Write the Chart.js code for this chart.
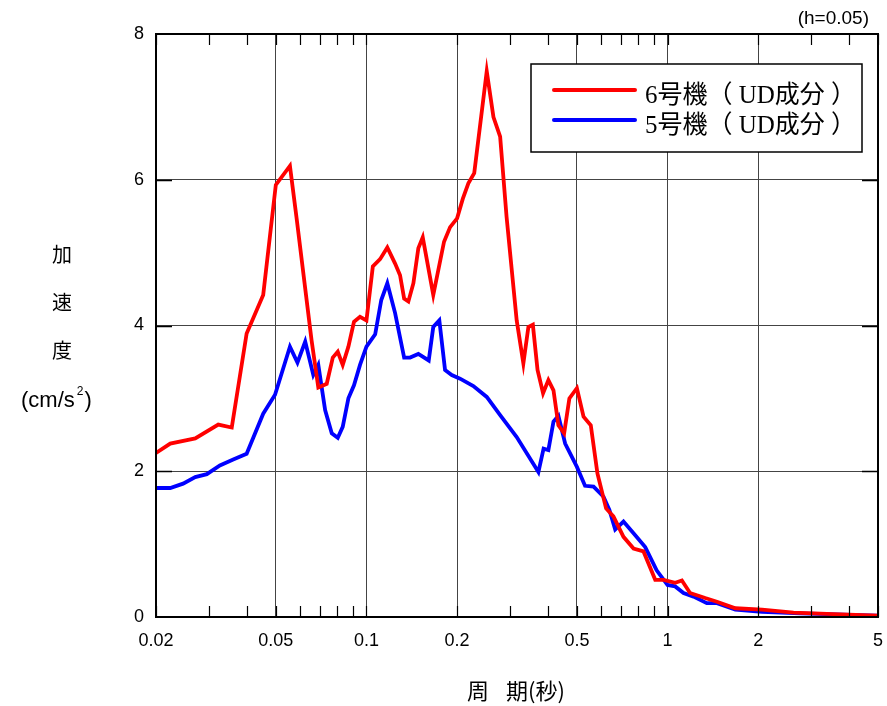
<!DOCTYPE html>
<html>
<head>
<meta charset="utf-8">
<script src="https://cdn.jsdelivr.net/npm/chart.js@4/dist/chart.umd.min.js"></script>
<style>
  html, body { margin:0; padding:0; background:#fff; }
  #wrap { position:relative; width:887px; height:706px; }
</style>
</head>
<body>
<div id="wrap"><canvas id="spec"></canvas></div>
<script>
/* ==================== DATA ==================== */
const xTickValues = [0.02, 0.05, 0.1, 0.2, 0.5, 1, 2, 5];
const xTickLabels = ['0.02', '0.05', '0.1', '0.2', '0.5', '1', '2', '5'];
const yTickLabels = ['0', '2', '4', '6', '8'];

const unit6Label = '6号機（ UD成分 ）';
const unit6Period = [0.02,0.0223,0.027,0.0322,0.0357,0.040,0.0454,0.05,0.0557,0.0587,0.0657,0.0692,0.0738,0.0773,0.0803,0.0834,0.0871,0.0909,0.0952,0.1,
  0.105,0.111,0.1173,0.1245,0.1293,0.1334,0.1378,0.1432,0.1487,0.1538,0.1667,0.181,0.1896,0.2,0.209,0.218,0.228,0.2509,0.2641,0.278,0.292,0.3155,
  0.332,0.345,0.357,0.370,0.386,0.402,0.418,0.434,0.4535,0.472,0.5,0.526,0.556,0.585,0.625,0.661,0.714,0.771,0.832,0.910,0.970,1.06,1.116,1.188,
  1.334,1.459,1.68,2.06,2.62,3.56,5];
const unit6Accel = [2.25,2.38,2.45,2.64,2.60,3.89,4.42,5.93,6.19,5.45,3.80,3.15,3.20,3.56,3.64,3.46,3.71,4.05,4.12,4.07,
  4.81,4.91,5.07,4.85,4.69,4.37,4.33,4.58,5.06,5.21,4.42,5.15,5.35,5.47,5.74,5.95,6.09,7.49,6.86,6.59,5.49,4.07,
  3.48,3.98,4.01,3.39,3.07,3.25,3.11,2.63,2.52,3.00,3.14,2.75,2.63,1.97,1.49,1.38,1.10,0.94,0.90,0.51,0.51,0.47,0.50,0.33,
  0.26,0.21,0.12,0.10,0.06,0.04,0.02];

const unit5Label = '5号機（ UD成分 ）';
const unit5Period = [0.02,0.0223,0.0246,0.027,0.0295,0.0326,0.0361,0.040,0.0454,0.0497,0.0557,0.059,0.0626,0.0666,0.0692,0.0729,0.0767,0.0803,0.0834,0.0871,0.0909,0.0952,0.1,
  0.1069,0.112,0.1173,0.1245,0.1334,0.1396,0.1487,0.161,0.1667,0.1746,0.1824,0.192,0.2046,0.2265,0.2509,0.278,0.3155,
  0.3725,0.3875,0.402,0.418,0.434,0.457,0.5,0.532,0.568,0.613,0.641,0.67,0.714,0.771,0.843,0.920,1.0,1.06,1.13,1.22,1.35,1.46,1.68,2.06,2.76,5];
const unit5Accel = [1.77,1.77,1.83,1.92,1.96,2.08,2.16,2.24,2.79,3.05,3.71,3.49,3.78,3.32,3.46,2.84,2.52,2.46,2.61,3.00,3.18,3.46,3.71,
  3.88,4.35,4.58,4.17,3.56,3.56,3.61,3.52,3.98,4.07,3.39,3.32,3.27,3.17,3.02,2.77,2.47,
  1.99,2.31,2.29,2.68,2.76,2.38,2.06,1.80,1.79,1.65,1.47,1.20,1.31,1.15,0.96,0.64,0.44,0.42,0.33,0.28,0.19,0.19,0.10,0.07,0.05,0.02];

const dampingNote = '(h=0.05)';
const xTitleParts = ['周', '期(秒)'];
const yTitleChars = ['加', '速', '度'];

/* ==================== HELPERS ==================== */
function toPoints(xs, ys) {
  return xs.map((x, i) => ({ x: x, y: ys[i] }));
}

// minor tick values 1..9 per decade within the axis range
function minorTicks(min, max) {
  const out = [];
  for (let d = -2; d <= 0; d++) {
    for (let m = 1; m <= 9; m++) {
      const v = m * Math.pow(10, d);
      if (v >= min - 1e-9 && v <= max + 1e-9) out.push(v);
    }
  }
  return out;
}

const SANS = '"Liberation Sans", Arial, sans-serif';
const CJK = '"Noto Sans CJK JP", sans-serif';

/* ==================== PLUGIN: frame, ticks, legend, titles ==================== */
const decorPlugin = {
  id: 'decor',
  afterDatasetsDraw(chart) {
    const ctx = chart.ctx;
    const a = chart.chartArea;
    const xs = chart.scales.x, ys = chart.scales.y;
    ctx.save();

    // inward tick marks on x (top and bottom)
    ctx.strokeStyle = '#000';
    ctx.lineWidth = 1.2;
    minorTicks(xs.min, xs.max).forEach(v => {
      const px = Math.round(xs.getPixelForValue(v)) + 0.5;
      ctx.beginPath();
      ctx.moveTo(px, a.bottom); ctx.lineTo(px, a.bottom - 11);
      ctx.moveTo(px, a.top); ctx.lineTo(px, a.top + 11);
      ctx.stroke();
    });
    // inward tick marks on y (left and right)
    ctx.lineWidth = 1.5;
    [2, 4, 6].forEach(v => {
      const py = Math.round(ys.getPixelForValue(v)) + 0.5;
      ctx.beginPath();
      ctx.moveTo(a.left, py); ctx.lineTo(a.left + 16, py);
      ctx.moveTo(a.right, py); ctx.lineTo(a.right - 16, py);
      ctx.stroke();
    });

    // frame
    ctx.lineWidth = 2;
    ctx.strokeRect(a.left, a.top, a.right - a.left, a.bottom - a.top);

    // legend box
    const lx = 531, ly = 64, lw = 331, lh = 88;
    ctx.fillStyle = '#fff';
    ctx.fillRect(lx, ly, lw, lh);
    ctx.lineWidth = 1.5;
    ctx.strokeStyle = '#000';
    ctx.strokeRect(lx, ly, lw, lh);
    const rows = [
      { label: unit6Label, color: chart.data.datasets[0].borderColor, y: 90 },
      { label: unit5Label, color: chart.data.datasets[1].borderColor, y: 120 }
    ];
    rows.forEach(r => {
      ctx.strokeStyle = r.color;
      ctx.lineWidth = 4;
      ctx.lineCap = 'round';
      ctx.beginPath();
      ctx.moveTo(554, r.y); ctx.lineTo(635, r.y);
      ctx.stroke();
      ctx.fillStyle = '#000';
      ctx.font = '25px "Liberation Serif", ' + CJK;
      ctx.textBaseline = 'middle';
      ctx.textAlign = 'left';
      ctx.fillText(r.label, 645, r.y + 6);
    });

    // damping note
    ctx.fillStyle = '#000';
    ctx.font = '19px ' + SANS;
    ctx.textAlign = 'right';
    ctx.textBaseline = 'middle';
    ctx.fillText(dampingNote, 869, 19);

    // y title (stacked)
    ctx.textAlign = 'center';
    ctx.font = '20px ' + CJK;
    yTitleChars.forEach((c, i) => ctx.fillText(c, 62, 254 + i * 48));
    ctx.font = '22px ' + SANS;
    ctx.textAlign = 'left';
    let x0 = 21;
    ctx.fillText('(cm/s', x0, 401);
    x0 += ctx.measureText('(cm/s').width + 2;
    ctx.font = '12px ' + SANS;
    ctx.fillText('2', x0, 392);
    x0 += ctx.measureText('2').width + 1;
    ctx.font = '22px ' + SANS;
    ctx.fillText(')', x0, 401);

    // x title
    ctx.font = '22px ' + CJK;
    ctx.textAlign = 'left';
    ctx.fillText(xTitleParts[0], 467, 691);
    ctx.fillText(xTitleParts[1], 506, 691);

    ctx.restore();
  }
};

/* ==================== CHART ==================== */
new Chart(document.getElementById('spec'), {
  type: 'line',
  data: {
    datasets: [
      {
        label: unit6Label,
        data: toPoints(unit6Period, unit6Accel),
        borderColor: '#ff0000', borderWidth: 3.8,
        pointRadius: 0, tension: 0, fill: false
      },
      {
        label: unit5Label,
        data: toPoints(unit5Period, unit5Accel),
        borderColor: '#0000ff', borderWidth: 3.8,
        pointRadius: 0, tension: 0, fill: false
      }
    ]
  },
  options: {
    responsive: true, maintainAspectRatio: false,
    animation: false,
    layout: { padding: { left: 0, top: 34, right: 9, bottom: 0 } },
    plugins: { legend: { display: false }, tooltip: { enabled: false } },
    scales: {
      x: {
        type: 'logarithmic', min: 0.02, max: 5,
        afterBuildTicks: s => { s.ticks = xTickValues.map(v => ({ value: v })); },
        afterFit: s => { s.height = 89; s.paddingLeft = 0; s.paddingRight = 0; },
        border: { display: false },
        grid: { color: '#444', lineWidth: 1, drawTicks: false },
        ticks: {
          color: '#000', padding: 13, maxRotation: 0, autoSkip: false,
          font: { size: 18, family: SANS },
          callback: (v, i) => xTickLabels[i]
        }
      },
      y: {
        min: 0, max: 8,
        afterFit: s => { s.width = 156; s.paddingTop = 0; s.paddingBottom = 0; },
        border: { display: false },
        grid: { color: '#444', lineWidth: 1, drawTicks: false },
        ticks: {
          color: '#000', padding: 12, stepSize: 2,
          font: { size: 18, family: SANS },
          callback: (v, i) => yTickLabels[i]
        }
      }
    }
  },
  plugins: [decorPlugin]
});
</script>
</body>
</html>
